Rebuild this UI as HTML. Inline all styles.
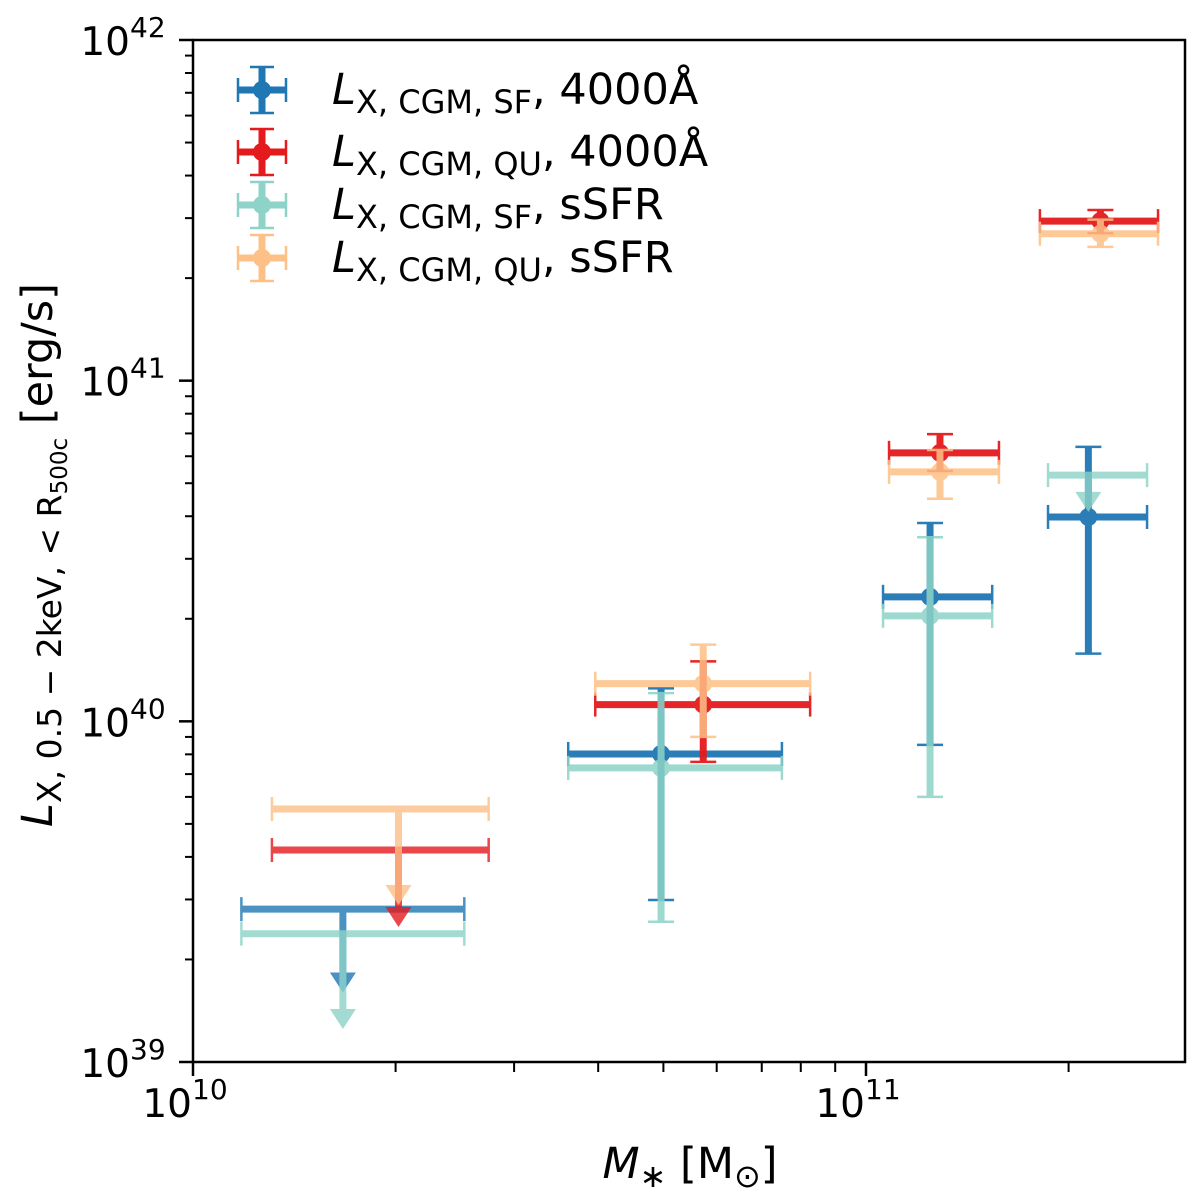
<!DOCTYPE html>
<html><head><meta charset="utf-8">
<style>
html,body{margin:0;padding:0;background:#fff;}
svg{display:block;font-family:"DejaVu Sans","Liberation Sans",sans-serif;}
</style></head>
<body>
<svg id="chart" width="1200" height="1199" viewBox="0 0 1200 1199" xmlns="http://www.w3.org/2000/svg">
<rect x="0" y="0" width="1200" height="1199" fill="#fff"/>
<g id="marks"></g>
<g id="axes"></g>
<g id="legend"></g>
<text x="690" y="1178" font-size="43" text-anchor="middle"><tspan font-style="italic">M</tspan><tspan font-size="32" dy="9">∗</tspan><tspan dy="-9"> [M</tspan><tspan font-size="32" dy="9">⊙</tspan><tspan dy="-9">]</tspan></text>
<text transform="translate(52,555) rotate(-90)" font-size="43" text-anchor="middle"><tspan font-style="italic">L</tspan><tspan font-size="33" dy="9">X, 0.5 − 2keV, &lt; R</tspan><tspan font-size="23" dy="6">500c</tspan><tspan dy="-15"> [erg/s]</tspan></text>
</svg>
<script>
// ---- data ----
const seriesNames = ["LX,CGM,SF, 4000Å","LX,CGM,QU, 4000Å","LX,CGM,SF, sSFR","LX,CGM,QU, sSFR"];
const seriesColors = ["#1f77b4","#e41a1c","#8dd3c7","#fdc086"];
// blue: SF 4000Å
const blueX = [1.67e10, 4.96e10, 1.245e11, 2.14e11];
const blueXlo = [1.18e10, 3.61e10, 1.06e11, 1.864e11];
const blueXhi = [2.53e10, 7.50e10, 1.54e11, 2.616e11];
const blueY = [2.81e39, 8.02e39, 2.32e40, 3.98e40];
const blueYlo = [1.60e39, 2.99e39, 8.53e39, 1.58e40];
const blueYhi = [2.81e39, 1.25e40, 3.82e40, 6.39e40];
const blueUL = [true, false, false, false];
// red: QU 4000Å
const redX = [2.02e10, 5.73e10, 1.288e11, 2.23e11];
const redXlo = [1.31e10, 3.96e10, 1.082e11, 1.813e11];
const redXhi = [2.75e10, 8.26e10, 1.576e11, 2.716e11];
const redY = [4.19e39, 1.12e40, 6.14e40, 2.94e41];
const redYlo = [2.49e39, 7.60e39, 5.43e40, 2.71e41];
const redYhi = [4.19e39, 1.50e40, 6.97e40, 3.17e41];
const redUL = [true, false, false, false];
// teal: SF sSFR
const tealX = [1.67e10, 4.96e10, 1.245e11, 2.14e11];
const tealXlo = [1.18e10, 3.61e10, 1.06e11, 1.864e11];
const tealXhi = [2.53e10, 7.50e10, 1.54e11, 2.616e11];
const tealY = [2.38e39, 7.30e39, 2.04e40, 5.28e40];
const tealYlo = [1.25e39, 2.58e39, 6.00e39, 4.12e40];
const tealYhi = [2.38e39, 1.21e40, 3.47e40, 5.28e40];
const tealUL = [true, false, false, true];
// orange: QU sSFR
const orangeX = [2.02e10, 5.73e10, 1.288e11, 2.23e11];
const orangeXlo = [1.31e10, 3.96e10, 1.082e11, 1.813e11];
const orangeXhi = [2.75e10, 8.26e10, 1.576e11, 2.716e11];
const orangeY = [5.53e39, 1.29e40, 5.40e40, 2.70e41];
const orangeYlo = [2.89e39, 9.00e39, 4.50e40, 2.47e41];
const orangeYhi = [5.53e39, 1.68e40, 6.26e40, 2.97e41];
const orangeUL = [true, false, false, false];

const xMajor = [1e10, 1e11];
const xMajorExp = ["10", "11"];
const xMinor = [2e10,3e10,4e10,5e10,6e10,7e10,8e10,9e10,2e11,3e11];
const yMajor = [1e39, 1e40, 1e41, 1e42];
const yMajorExp = ["39","40","41","42"];
const yMinorMant = [2,3,4,5,6,7,8,9];

// ---- axes ----
const L=193, R=1185, T=40, B=1062;
const xDec=673, yMinLog=39, yMaxLog=42;
function sx(v){ return L + (Math.log10(v)-10)*xDec; }
function sy(v){ return B - (Math.log10(v)-yMinLog)/(yMaxLog-yMinLog)*(B-T); }

const NS="http://www.w3.org/2000/svg";
function mk(tag, attrs, parent){ const e=document.createElementNS(NS,tag); for(const k in attrs) e.setAttribute(k,attrs[k]); parent.appendChild(e); return e; }
const marks=document.getElementById('marks');
const axes=document.getElementById('axes');
const legend=document.getElementById('legend');

const all = [
 [blueX,blueXlo,blueXhi,blueY,blueYlo,blueYhi,blueUL,"blue-sf-4000"],
 [redX,redXlo,redXhi,redY,redYlo,redYhi,redUL,"red-qu-4000"],
 [tealX,tealXlo,tealXhi,tealY,tealYlo,tealYhi,tealUL,"teal-sf-ssfr"],
 [orangeX,orangeXlo,orangeXhi,orangeY,orangeYlo,orangeYhi,orangeUL,"orange-qu-ssfr"]
];
const alphas=[0.95,0.95,0.85,0.85];
all.forEach((s,si)=>{
  const [X,Xlo,Xhi,Y,Ylo,Yhi,UL,nm]=s;
  const c=seriesColors[si];
  for(let i=0;i<X.length;i++){
    const g=mk('g',{opacity: UL[i]?0.8:alphas[si]},marks);
    
    
    const x=sx(X[i]), y=sy(Y[i]);
    const x1=sx(Xlo[i]), x2=sx(Xhi[i]);
    mk('line',{x1:x1,y1:y,x2:x2,y2:y,stroke:c,'stroke-width':7},g);
    mk('line',{x1:x1,y1:y-12,x2:x1,y2:y+12,stroke:c,'stroke-width':2.5},g);
    mk('line',{x1:x2,y1:y-12,x2:x2,y2:y+12,stroke:c,'stroke-width':2.5},g);
    const ylo=sy(Ylo[i]);
    if(UL[i]){
      mk('line',{x1:x,y1:y,x2:x,y2:ylo-18,stroke:c,'stroke-width':7},g);
      mk('line',{x1:x-12,y1:y,x2:x+12,y2:y,stroke:c,'stroke-width':2.5},g);
      mk('polygon',{points:`${x-13},${ylo-20} ${x+13},${ylo-20} ${x},${ylo}`,fill:c},g);
    } else {
      const yhi=sy(Yhi[i]);
      mk('line',{x1:x,y1:yhi,x2:x,y2:ylo,stroke:c,'stroke-width':7},g);
      mk('line',{x1:x-13,y1:yhi,x2:x+13,y2:yhi,stroke:c,'stroke-width':2.5},g);
      mk('line',{x1:x-13,y1:ylo,x2:x+13,y2:ylo,stroke:c,'stroke-width':2.5},g);
      mk('circle',{cx:x,cy:y,r:9,fill:c},g);
    }
  }
});

// frame
const fr=mk('rect',{x:L,y:T,width:R-L,height:B-T,fill:'none',stroke:'#000','stroke-width':2.5},axes);


xMajor.forEach((v,i)=>{
  const x=sx(v);
  mk('line',{x1:x,y1:B,x2:x,y2:B+14,stroke:'#000','stroke-width':2.5},axes);
  const t=mk('text',{x:x-8,y:B+55,'font-size':39,'text-anchor':'middle'},axes);
  
  
  t.innerHTML='10<tspan font-size="28" dy="-18">'+xMajorExp[i]+'</tspan>';
});
xMinor.forEach(v=>{
  const x=sx(v); if(x>R+1) return;
  mk('line',{x1:x,y1:B,x2:x,y2:B+10,stroke:'#000','stroke-width':2},axes);
});
yMajor.forEach((v,i)=>{
  const y=sy(v);
  mk('line',{x1:L,y1:y,x2:L-14,y2:y,stroke:'#000','stroke-width':2.5},axes);
  const t=mk('text',{x:L-70,y:y+15,'font-size':39,'text-anchor':'middle'},axes);
  
  
  t.innerHTML='10<tspan font-size="28" dy="-18">'+yMajorExp[i]+'</tspan>';
  if(i<yMajor.length-1){
    yMinorMant.forEach(m=>{
      const yy=sy(v*m);
      mk('line',{x1:L,y1:yy,x2:L-8,y2:yy,stroke:'#000','stroke-width':2},axes);
    });
  }
});

// legend
const legY=[90,152,205,258];
const legSub=["X, CGM, SF","X, CGM, QU","X, CGM, SF","X, CGM, QU"];
const legTail=["4000Å","4000Å","sSFR","sSFR"];
legY.forEach((y,i)=>{
  const c=seriesColors[i];
  const g=mk('g',{},legend);
  
  
  const x=262;
  mk('line',{x1:x-24,y1:y,x2:x+24,y2:y,stroke:c,'stroke-width':7},g);
  mk('line',{x1:x-24,y1:y-12,x2:x-24,y2:y+12,stroke:c,'stroke-width':2.5},g);
  mk('line',{x1:x+24,y1:y-12,x2:x+24,y2:y+12,stroke:c,'stroke-width':2.5},g);
  mk('line',{x1:x,y1:y-23,x2:x,y2:y+23,stroke:c,'stroke-width':7},g);
  mk('line',{x1:x-12,y1:y-23,x2:x+12,y2:y-23,stroke:c,'stroke-width':2.5},g);
  mk('line',{x1:x-12,y1:y+23,x2:x+12,y2:y+23,stroke:c,'stroke-width':2.5},g);
  mk('circle',{cx:x,cy:y,r:9,fill:c},g);
  const t=mk('text',{x:332,y:y+14,'font-size':43},g);
  t.innerHTML='<tspan font-style="italic">L</tspan><tspan font-size="32" dy="9">'+legSub[i]+'</tspan><tspan dy="-9">, '+legTail[i]+'</tspan>';
});
</script>
</body></html>
